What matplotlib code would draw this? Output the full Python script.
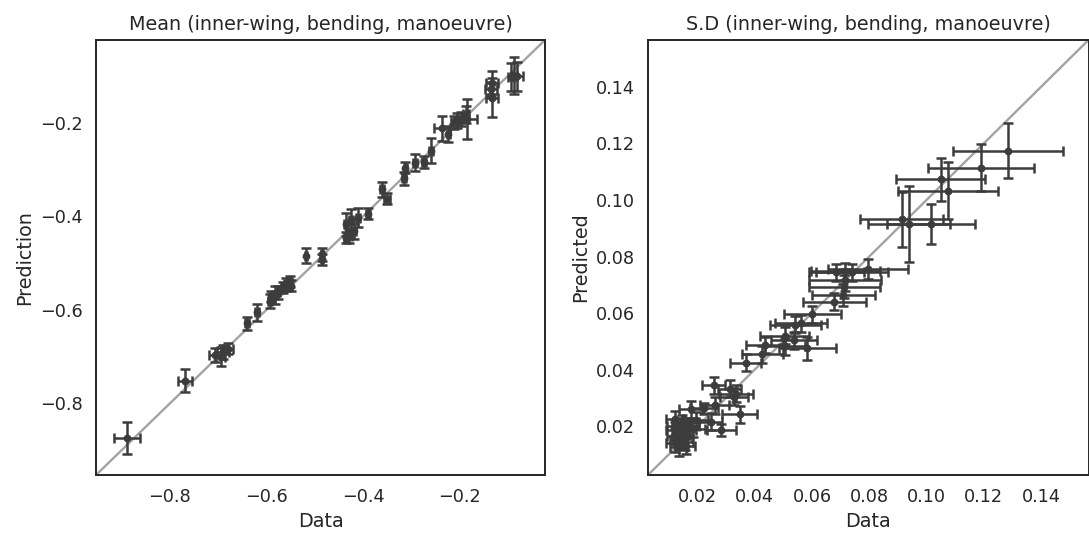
import numpy as np
import matplotlib
matplotlib.use("Agg")
import matplotlib.pyplot as plt
import seaborn as sns

# ---------------- data ----------------
mean_data = [-0.889, -0.769, -0.707, -0.695, -0.690, -0.680, -0.641, -0.619,
             -0.593, -0.590, -0.582, -0.575, -0.565, -0.560, -0.550, -0.552,
             -0.518, -0.485, -0.485, -0.435, -0.424, -0.411, -0.435, -0.428,
             -0.419, -0.389, -0.360, -0.350, -0.315, -0.312, -0.293, -0.274,
             -0.260, -0.236, -0.223, -0.211, -0.205, -0.198, -0.187, -0.184,
             -0.133, -0.135, -0.133, -0.094, -0.087, -0.080]
mean_pred = [-0.874, -0.751, -0.697, -0.700, -0.690, -0.683, -0.629, -0.605,
             -0.580, -0.572, -0.568, -0.562, -0.552, -0.545, -0.548, -0.540,
             -0.484, -0.481, -0.492, -0.417, -0.407, -0.403, -0.446, -0.442,
             -0.432, -0.394, -0.342, -0.362, -0.319, -0.296, -0.285, -0.284,
             -0.260, -0.212, -0.224, -0.199, -0.196, -0.192, -0.182, -0.192,
             -0.114, -0.128, -0.146, -0.103, -0.099, -0.101]
mean_xerr = [0.027, 0.015, 0.012, 0.010, 0.012, 0.010, 0.004, 0.004,
             0.004, 0.004, 0.005, 0.004, 0.005, 0.004, 0.004, 0.005,
             0.003, 0.003, 0.003, 0.004, 0.004, 0.004, 0.004, 0.005,
             0.005, 0.004, 0.004, 0.006, 0.004, 0.004, 0.004, 0.004,
             0.004, 0.017, 0.004, 0.006, 0.006, 0.006, 0.006, 0.021,
             0.012, 0.012, 0.012, 0.006, 0.006, 0.012]
mean_yerr = [0.034, 0.024, 0.015, 0.020, 0.015, 0.012, 0.014, 0.018,
             0.015, 0.012, 0.020, 0.014, 0.012, 0.014, 0.012, 0.012,
             0.016, 0.014, 0.012, 0.025, 0.022, 0.020, 0.012, 0.014,
             0.016, 0.012, 0.016, 0.012, 0.014, 0.012, 0.018, 0.012,
             0.027, 0.026, 0.018, 0.014, 0.016, 0.014, 0.018, 0.043,
             0.025, 0.015, 0.042, 0.030, 0.040, 0.030]

sd_data = [0.1285, 0.1190, 0.1050, 0.1076, 0.0913, 0.0938, 0.1016,
           0.0685, 0.0716, 0.0739, 0.0796, 0.0716, 0.0713, 0.0710, 0.0678,
           0.0601, 0.0561, 0.0542, 0.0504, 0.0538, 0.0507, 0.0584, 0.0435,
           0.0427, 0.0368,
           0.0257, 0.0312, 0.0328, 0.0335, 0.0347, 0.0260, 0.0223, 0.0177,
           0.0246, 0.0283,
           0.0120, 0.0125, 0.0130, 0.0135, 0.0140, 0.0120, 0.0145, 0.0150,
           0.0160, 0.0135, 0.0170, 0.0155, 0.0185, 0.0120, 0.0195, 0.0160]
sd_pred = [0.1175, 0.1114, 0.1073, 0.1033, 0.0932, 0.0915, 0.0915,
           0.0745, 0.0748, 0.0745, 0.0755, 0.0717, 0.0693, 0.0664, 0.0640,
           0.0596, 0.0563, 0.0558, 0.0519, 0.0504, 0.0483, 0.0475, 0.0487,
           0.0455, 0.0424,
           0.0345, 0.0333, 0.0304, 0.0315, 0.0242, 0.0274, 0.0263, 0.0259,
           0.0215, 0.0186,
           0.0185, 0.0165, 0.0200, 0.0150, 0.0175, 0.0140, 0.0210, 0.0160,
           0.0185, 0.0125, 0.0200, 0.0145, 0.0190, 0.0225, 0.0220, 0.0130]
sd_xerr = [0.0192, 0.0186, 0.0156, 0.0175, 0.0146, 0.0143, 0.0154,
           0.0095, 0.0120, 0.0125, 0.0139, 0.0125, 0.0125, 0.0110, 0.0110,
           0.0100, 0.0090, 0.0090, 0.0085, 0.0080, 0.0070, 0.0100, 0.0065,
           0.0070, 0.0055,
           0.0040, 0.0040, 0.0050, 0.0060, 0.0060, 0.0050, 0.0050, 0.0040,
           0.0040, 0.0050,
           0.0030, 0.0030, 0.0035, 0.0030, 0.0030, 0.0030, 0.0035, 0.0030,
           0.0035, 0.0030, 0.0035, 0.0030, 0.0040, 0.0030, 0.0040, 0.0030]
sd_yerr = [0.0096, 0.0083, 0.0077, 0.0102, 0.0097, 0.0134, 0.0072,
           0.0030, 0.0030, 0.0030, 0.0035, 0.0040, 0.0040, 0.0040, 0.0030,
           0.0030, 0.0030, 0.0030, 0.0030, 0.0030, 0.0030, 0.0040, 0.0030,
           0.0030, 0.0030,
           0.0030, 0.0030, 0.0030, 0.0030, 0.0030, 0.0030, 0.0020, 0.0030,
           0.0030, 0.0020,
           0.0030, 0.0030, 0.0030, 0.0030, 0.0030, 0.0030, 0.0030, 0.0030,
           0.0030, 0.0030, 0.0030, 0.0030, 0.0030, 0.0030, 0.0030, 0.0030]

mean_lim = (-0.953, -0.023)
sd_lim = (0.0027, 0.1566)

# ---------------- style ----------------
sns.set_theme(style="white")
plt.rcParams['font.family'] = ['DejaVu Sans']

W, H = 1089, 536
fig = plt.figure(figsize=(W / 100, H / 100), dpi=100)

def px_axes(x0, y0, x1, y1):
    return fig.add_axes([x0 / W, 1 - y1 / H, (x1 - x0) / W, (y1 - y0) / H])

ax1 = px_axes(96, 40, 545, 475)
ax2 = px_axes(648, 40, 1088.5, 475)

pt_color = '#3c3c3c'
line_color = '#a3a3a3'

def panel(ax, xd, yd, xe, ye, lim, title, ylabel, ticks):
    ax.plot(lim, lim, color=line_color, lw=1.7, zorder=1)
    ax.errorbar(xd, yd, xerr=xe, yerr=ye, fmt='o', color=pt_color,
                ecolor=pt_color, ms=4.6, elinewidth=1.8, capsize=3.5,
                capthick=1.8, zorder=2)
    ax.set_xlim(lim)
    ax.set_ylim(lim)
    ax.set_xticks(ticks)
    ax.set_yticks(ticks)
    ax.set_title(title, fontsize=13.8, pad=7)
    ax.set_xlabel('Data', fontsize=13.8)
    ax.set_ylabel(ylabel, fontsize=13.8)
    ax.tick_params(labelsize=12.7)
    for s in ax.spines.values():
        s.set_color('#262626')
        s.set_linewidth(1.4)

panel(ax1, mean_data, mean_pred, mean_xerr, mean_yerr, mean_lim,
      'Mean (inner-wing, bending, manoeuvre)', 'Prediction',
      [-0.8, -0.6, -0.4, -0.2])
panel(ax2, sd_data, sd_pred, sd_xerr, sd_yerr, sd_lim,
      'S.D (inner-wing, bending, manoeuvre)', 'Predicted',
      [0.02, 0.04, 0.06, 0.08, 0.10, 0.12, 0.14])
ax2.set_xticklabels(['0.02', '0.04', '0.06', '0.08', '0.10', '0.12', '0.14'])
ax2.set_yticklabels(['0.02', '0.04', '0.06', '0.08', '0.10', '0.12', '0.14'])

fig.savefig('out.png', dpi=100)
